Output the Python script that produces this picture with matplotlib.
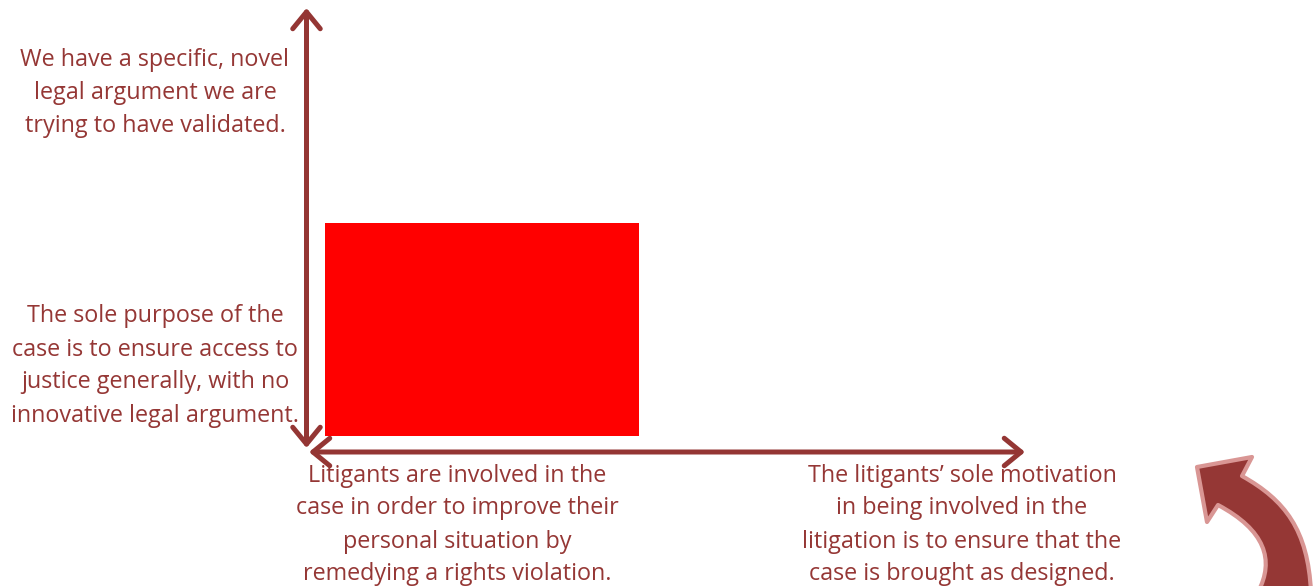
import matplotlib.pyplot as plt
from matplotlib.patches import FancyArrowPatch, PathPatch
from matplotlib.path import Path

# -------------------------------
# Data
# -------------------------------
# position of the case on the two axes (0-10 scale along each arrow)
case_x = [0.25, 4.63]   # personal remedy  ->  sole motivation
case_y = [0.34, 5.15]   # no innovation    ->  novel argument

y_labels = [
    "The sole purpose of the\ncase is to ensure access to\njustice generally, with no\ninnovative legal argument.",
    "We have a specific, novel\nlegal argument we are\ntrying to have validated.",
]
x_labels = [
    "Litigants are involved in the\ncase in order to improve their\npersonal situation by\nremedying a rights violation.",
    "The litigants\u2019 sole motivation\nin being involved in the\nlitigation is to ensure that the\ncase is brought as designed.",
]

TEXT_COLOR = "#953735"
ARROW_COLOR = "#943634"

plt.rcParams['font.family'] = ['Open Sans', 'DejaVu Sans']

fig = plt.figure(figsize=(13.15, 5.86), dpi=100)

# overlay in pixel coordinates for arrows and labels
ov = fig.add_axes([0, 0, 1, 1])
ov.set_xlim(0, 1315)
ov.set_ylim(586, 0)
ov.axis("off")

# data axes sitting on the arrows
ax = fig.add_axes([307 / 1315, (586 - 451) / 586, 717 / 1315, 443 / 586])
ax.set_xlim(0, 10)
ax.set_ylim(0, 10)
ax.axis("off")
ax.bar(case_x[0], case_y[1] - case_y[0], width=case_x[1] - case_x[0],
       bottom=case_y[0], align="edge", color="#FF0000")

# axis arrows
arrow_kw = dict(arrowstyle="<->,head_length=0.55,head_width=0.45",
                mutation_scale=22, color=ARROW_COLOR, lw=3.6,
                capstyle="round", joinstyle="round",
                shrinkA=0, shrinkB=0)
ov.add_patch(FancyArrowPatch((306.5, 448), (306.5, 8), **arrow_kw))
ov.add_patch(FancyArrowPatch((309, 452), (1025, 452), **arrow_kw))

# labels
txt_kw = dict(color=TEXT_COLOR, fontsize=16.8, ha="center", va="center",
              linespacing=1.5)
ov.text(155, 366, y_labels[0], **txt_kw)
ov.text(155, 93, y_labels[1], **txt_kw)
ov.text(457, 525, x_labels[0], **txt_kw)
ov.text(962, 525, x_labels[1], **txt_kw)

# curved arrow, bottom right
verts = [
    (1197, 467), (1252, 457), (1242, 476),
    (1285, 500), (1308, 530), (1311, 592),
    (1258, 592),
    (1275, 560), (1265, 530), (1218, 505),
    (1207, 522), (1197, 467),
]
codes = [
    Path.MOVETO, Path.LINETO, Path.LINETO,
    Path.CURVE4, Path.CURVE4, Path.CURVE4,
    Path.LINETO,
    Path.CURVE4, Path.CURVE4, Path.CURVE4,
    Path.LINETO, Path.CLOSEPOLY,
]
ov.add_patch(PathPatch(Path(verts, codes), facecolor="#953735",
                       edgecolor="#D99694", lw=3, joinstyle="round"))

fig.savefig("out.png", dpi=100)
